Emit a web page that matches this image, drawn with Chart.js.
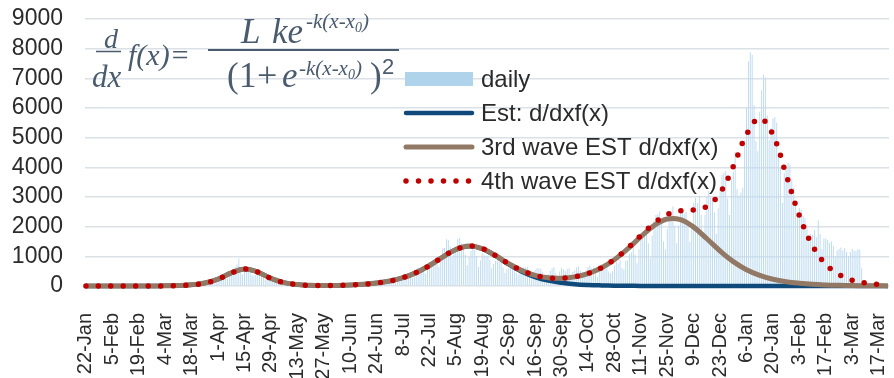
<!DOCTYPE html>
<html>
<head>
<meta charset="utf-8">
<script src="https://cdn.jsdelivr.net/npm/chart.js@4.4.0/dist/chart.umd.min.js"></script>
<style>
  html, body { margin: 0; padding: 0; background: #fff; }
  #wrap { position: relative; width: 894px; height: 378px; overflow: hidden; }
  #formula { position: absolute; left: 0; top: 0; pointer-events: none; }
</style>
</head>
<body>
<div id="wrap">
  <canvas id="chart" width="894" height="378"></canvas>
  <svg id="formula" width="894" height="378" xmlns="http://www.w3.org/2000/svg">
    <g fill="#4a5b6d" font-family="'Liberation Serif', 'Times New Roman', serif" font-style="italic">
      <text x="104" y="48" font-size="28">d</text>
      <text x="92" y="87" font-size="31">dx</text>
      <text x="128" y="65" font-size="30">f(x)=</text>
      <text x="241" y="43" font-size="35">L</text>
      <text x="272" y="43" font-size="35">ke</text>
      <text x="306" y="28" font-size="21">-k(x-x<tspan font-size="14" dy="4">0</tspan><tspan dy="-4">)</tspan></text>
      <text x="227" y="87" font-size="35" font-style="normal">(</text>
      <text x="239" y="87" font-size="35" font-style="normal">1</text>
      <text x="257" y="87" font-size="36" font-style="normal">+</text>
      <text x="282" y="87" font-size="35">e</text>
      <text x="299" y="75" font-size="21">-k(x-x<tspan font-size="14" dy="4">0</tspan><tspan dy="-4">)</tspan></text>
      <text x="370" y="87" font-size="35" font-style="normal">)</text>
      <text x="382" y="74" font-size="22" font-style="normal" font-family="'Liberation Sans', Arial, sans-serif">2</text>
    </g>
    <line x1="96" y1="51.5" x2="121" y2="51.5" stroke="#4a5b6d" stroke-width="1.5"/>
    <line x1="208" y1="50" x2="399" y2="50" stroke="#4a5b6d" stroke-width="2"/>
  </svg>
</div>
<script>
// daily cases, one row per week starting 22-Jan-2020 (last bar 8-Mar-2021)
const dailyCases = [
  1, 0, 1, 0, 0, 2, 1,
  1, 2, 4, 0, 3, 0, 1,
  1, 0, 0, 0, 1, 0, 1,
  2, 4, 8, 5, 6, 7, 4,
  11, 9, 8, 11, 10, 8, 5,
  13, 10, 21, 11, 10, 14, 15,
  33, 31, 56, 42, 37, 30, 37,
  52, 55, 40, 55, 20, 28, 44,
  37, 44, 40, 54, 35, 39, 65,
  96, 96, 123, 200, 175, 87, 225,
  266, 235, 355, 368, 280, 250, 350,
  515, 579, 650, 720, 930, 500, 390,
  550, 580, 590, 560, 370, 350, 370,
  440, 430, 460, 370, 210, 210, 270,
  190, 160, 250, 290, 200, 180, 120,
  90, 110, 80, 80, 60, 40, 80,
  60, 50, 45, 50, 30, 20, 30,
  25, 30, 25, 20, 15, 25, 20,
  40, 30, 50, 40, 30, 40, 50,
  40, 40, 50, 40, 50, 20, 40,
  40, 40, 40, 50, 50, 40, 70,
  40, 40, 70, 70, 50, 40, 50,
  100, 110, 110, 110, 130, 90, 120,
  130, 200, 250, 270, 210, 180, 200,
  210, 350, 390, 390, 300, 260, 330,
  420, 620, 590, 660, 510, 420, 620,
  800, 790, 770, 780, 770, 640, 990,
  1260, 1280, 1580, 1540, 1330, 960, 1240,
  1360, 1580, 1620, 1440, 1390, 1050, 700,
  980, 1180, 1360, 1220, 1010, 640, 870,
  1100, 1040, 980, 1020, 880, 600, 740,
  840, 870, 810, 840, 620, 440, 570,
  590, 600, 590, 630, 440, 370, 500,
  520, 630, 620, 650, 440, 290, 450,
  540, 600, 600, 580, 480, 250, 340,
  400, 510, 600, 640, 430, 320, 490,
  610, 560, 500, 570, 600, 390, 480,
  520, 620, 660, 510, 460, 340, 530,
  640, 690, 600, 620, 430, 300, 480,
  630, 620, 740, 750, 490, 430, 500,
  700, 810, 770, 880, 610, 560, 850,
  870, 1080, 1140, 1330, 1050, 770, 1240,
  1540, 1660, 1710, 1730, 1440, 940, 1700,
  2200, 2390, 2420, 2500, 2160, 1500, 1230,
  1930, 2500, 2500, 2680, 2040, 1440, 2030,
  2430, 2510, 2440, 2500, 2030, 1480, 2030,
  2810, 2970, 2790, 3040, 2390, 1680, 2390,
  3020, 3200, 2990, 2990, 2490, 1750, 2620,
  3270, 3740, 3820, 3880, 2950, 2390, 3600,
  3850, 4520, 3260, 3050, 3150, 3310, 4910,
  6000, 7570, 7880, 7790, 6090, 4870, 4540,
  5870, 6600, 7120, 7030, 5750, 4910, 5320,
  5650, 5700, 5500, 4500, 4000, 2800, 3800,
  3960, 4150, 4100, 3600, 3300, 2700, 2350,
  2630, 2570, 2370, 2280, 2050, 1600, 1750,
  1720, 1900, 1650, 2220, 1750, 1250, 1600,
  1600, 1550, 1450, 1500, 1350, 1000, 1200,
  1250, 1300, 1200, 1280, 1150, 1000, 1150,
  1250, 1200, 1180, 1250, 1220, 600
];

// fitted curves, read every 7 days from 22-Jan; last value is the final day
const estCurve = [
  0, 0, 0, 0, 1, 2, 6, 15, 40, 99,
  230, 440, 575, 470, 257, 114, 48, 23, 17, 21,
  34, 57, 98, 167, 280, 451, 690, 974, 1226, 1339,
  1253, 1014, 729, 481, 300, 180, 107, 62, 36, 21,
  12, 7, 4, 2, 1, 0, 0, 0, 0, 0,
  0, 0, 0, 0, 0, 0, 0, 0, 0, 0,
  0, 0
];
const thirdWaveCurve = [
  0, 0, 0, 0, 1, 2, 6, 15, 40, 99,
  230, 440, 575, 470, 257, 114, 48, 23, 17, 21,
  34, 57, 98, 167, 280, 451, 691, 976, 1230, 1345,
  1262, 1028, 752, 519, 361, 277, 262, 307, 419, 607,
  885, 1248, 1661, 2037, 2258, 2237, 1984, 1593, 1180, 822,
  550, 358, 228, 144, 92, 56, 35, 22, 13, 8,
  5, 4
];
const fourthWaveCurve = [
  0, 0, 0, 0, 1, 2, 6, 15, 40, 99,
  230, 440, 575, 470, 257, 114, 48, 23, 17, 21,
  34, 57, 98, 167, 280, 451, 691, 976, 1230, 1345,
  1262, 1028, 752, 519, 361, 277, 262, 308, 422, 612,
  895, 1268, 1700, 2115, 2413, 2536, 2565, 2688, 3138, 4032,
  5106, 5645, 5094, 3753, 2371, 1357, 733, 385, 197, 103,
  53, 36
];

const tickLabels = [
  '22-Jan', '5-Feb', '19-Feb', '4-Mar', '18-Mar', '1-Apr', '15-Apr', '29-Apr',
  '13-May', '27-May', '10-Jun', '24-Jun', '8-Jul', '22-Jul', '5-Aug', '19-Aug',
  '2-Sep', '16-Sep', '30-Sep', '14-Oct', '28-Oct', '11-Nov', '25-Nov', '9-Dec',
  '23-Dec', '6-Jan', '20-Jan', '3-Feb', '17-Feb', '3-Mar', '17-Mar'
];

const dayCount = 426;   // 22-Jan-2020 .. 22-Mar-2021
const sampleStep = 7;
const monthNames = ['Jan', 'Feb', 'Mar', 'Apr', 'May', 'Jun', 'Jul', 'Aug', 'Sep', 'Oct', 'Nov', 'Dec'];

const dayLabels = [];
for (let i = 0; i < dayCount; i++) {
  const d = new Date(2020, 0, 22 + i);
  dayLabels.push(d.getDate() + '-' + monthNames[d.getMonth()]);
}

// put the weekly samples on their day, gaps get spanned
function spread(samples) {
  const arr = new Array(dayCount).fill(null);
  samples.forEach((v, i) => { arr[Math.min(i * sampleStep, dayCount - 1)] = v; });
  return arr;
}

const FONT = "'Liberation Sans', Arial, sans-serif";
const TEXT = '#2b2b2b';

const insideLegend = {
  id: 'insideLegend',
  afterDraw(chart) {
    const c = chart.ctx;
    const x0 = 406, x1 = 472, textX = 481;
    const rows = [79, 113, 147, 181];
    c.save();
    chart.data.datasets.forEach((ds, i) => {
      const y = rows[i];
      if (ds.type === 'bar') {
        c.fillStyle = '#aed3eb';
        c.fillRect(x0 - 1, y - 7, x1 - x0 + 2, 14);
      } else {
        c.beginPath();
        c.strokeStyle = ds.borderColor;
        c.lineWidth = ds.borderWidth;
        c.lineCap = 'round';
        c.setLineDash(ds.borderDash || []);
        c.moveTo(x0, y);
        c.lineTo(x1, y);
        c.stroke();
        c.setLineDash([]);
      }
      c.fillStyle = TEXT;
      c.font = '24px ' + FONT;
      c.textBaseline = 'middle';
      c.fillText(ds.label, textX, y + 1);
    });
    c.restore();
  }
};

const ctx = document.getElementById('chart').getContext('2d');
new Chart(ctx, {
  type: 'bar',
  data: {
    labels: dayLabels,
    datasets: [
      {
        type: 'bar',
        label: 'daily',
        data: dailyCases,
        backgroundColor: '#bcdaf0',
        barPercentage: 0.5,
        categoryPercentage: 1,
        order: 4
      },
      {
        type: 'line',
        label: 'Est: d/dxf(x)',
        data: spread(estCurve),
        borderColor: '#0f4a7a',
        borderWidth: 4.5,
        pointRadius: 0,
        tension: 0.4,
        spanGaps: true,
        clip: 6,
        order: 3
      },
      {
        type: 'line',
        label: '3rd wave EST d/dxf(x)',
        data: spread(thirdWaveCurve),
        borderColor: '#927965',
        borderWidth: 5,
        pointRadius: 0,
        tension: 0.4,
        spanGaps: true,
        clip: 6,
        order: 2
      },
      {
        type: 'line',
        label: '4th wave EST d/dxf(x)',
        data: spread(fourthWaveCurve),
        borderColor: '#c00000',
        borderWidth: 5.5,
        borderDash: [0, 12.5],
        borderCapStyle: 'round',
        pointRadius: 0,
        tension: 0.4,
        spanGaps: true,
        clip: 6,
        order: 1
      }
    ]
  },
  options: {
    responsive: false,
    animation: false,
    devicePixelRatio: 1,
    layout: { padding: { top: 19, right: 5, left: 0, bottom: 0 } },
    plugins: {
      legend: { display: false },
      tooltip: { enabled: false }
    },
    scales: {
      x: {
        grid: { display: false },
        border: { display: false },
        ticks: {
          autoSkip: false,
          maxRotation: 90,
          minRotation: 90,
          padding: 19,
          color: TEXT,
          font: { family: FONT, size: 20 },
          callback: (val, i) => (i % 14 === 0 ? tickLabels[i / 14] : '')
        },
        afterFit(s) { s.height = 92; s.paddingLeft = 0; s.paddingRight = 0; }
      },
      y: {
        min: 0,
        max: 9000,
        ticks: {
          stepSize: 1000,
          autoSkip: false,
          padding: 22,
          color: TEXT,
          font: { family: FONT, size: 23 },
          callback: (v) => String(v)
        },
        grid: { color: '#dce1e8', lineWidth: 1.5, drawTicks: false },
        border: { display: false },
        afterFit(s) { s.width = 85; s.paddingTop = 0; s.paddingBottom = 0; }
      }
    }
  },
  plugins: [insideLegend]
});
</script>
</body>
</html>
